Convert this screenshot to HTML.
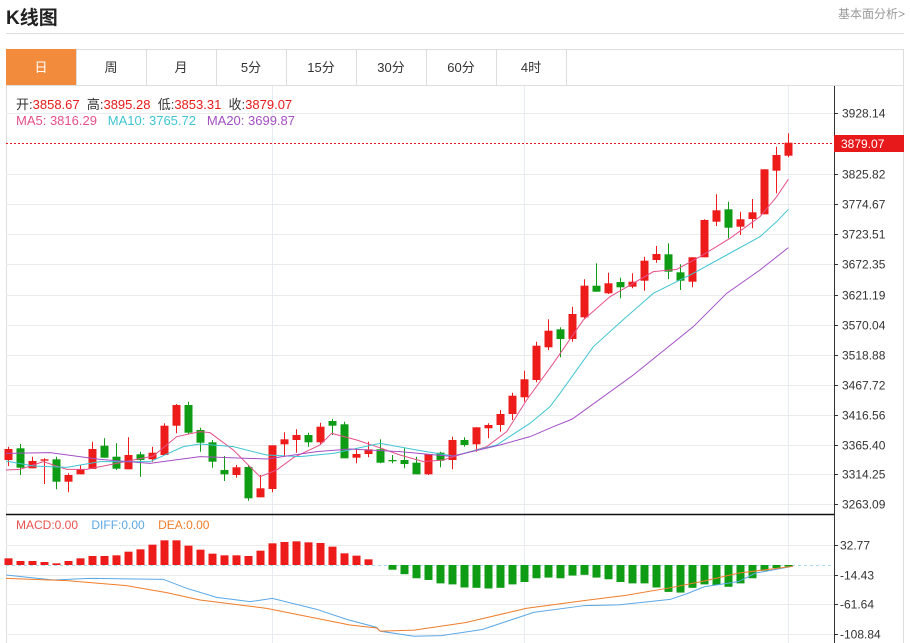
<!DOCTYPE html>
<html><head><meta charset="utf-8">
<style>
body{margin:0;width:910px;height:643px;background:#fff;font-family:"Liberation Sans","Noto Sans CJK SC",sans-serif;overflow:hidden;position:relative}
.t{position:absolute;white-space:nowrap}
</style></head><body>
<div class="t" style="left:6px;top:3px;font-size:19px;font-weight:bold;color:#222">K线图</div>
<div class="t" style="left:838px;top:5px;font-size:12px;color:#999">基本面分析&gt;</div>
<div style="position:absolute;left:6px;top:33px;width:898px;height:1px;background:#ddd"></div>
<svg id="s" width="910" height="643" style="position:absolute;left:0;top:0" xmlns="http://www.w3.org/2000/svg" font-family="Liberation Sans, Noto Sans CJK SC, sans-serif"></svg>
<script>
const S=document.getElementById('s');let h='';
function L(x1,y1,x2,y2,c,w,d){h+=`<line x1="${x1}" y1="${y1}" x2="${x2}" y2="${y2}" stroke="${c}" stroke-width="${w||1}" ${d?'stroke-dasharray="'+d+'"':''}/>`}
function R(x,y,w,hh,f,s){h+=`<rect x="${x}" y="${y}" width="${w}" height="${hh}" fill="${f}" ${s?'stroke="'+s+'"':''}/>`}
function T(x,y,t,c,sz,a){h+=`<text x="${x}" y="${y}" fill="${c}" font-size="${sz||12}" ${a?'text-anchor="'+a+'"':''}>${t}</text>`}
function P(pts,c){h+=`<polyline points="${pts.map(p=>p.join(',')).join(' ')}" fill="none" stroke="${c}" stroke-width="1"/>`}
R(6.5,49.5,897,600,'none','#ddd');
const tabs=['日','周','月','5分','15分','30分','60分','4时'];
R(6,49,70,36,'#f28c3c');
tabs.forEach((t,i)=>{let x=6+i*70;L(x+70.5,49,x+70.5,85,'#ddd');T(x+35,72,t,i?'#333':'#fff',13,'middle')});
L(6,85.5,904,85.5,'#ddd');
[113,174,204,234,264,295,325,355,385,415,445,474,504].forEach(y=>L(6,y+.5,834,y+.5,'#ebebeb'));
[272,524,788].forEach(x=>L(x+.5,86,x+.5,643,'#e6ecf2'));
[545,575,604,634].forEach(y=>L(6,y+.5,834,y+.5,'#ebebeb'));
const lab=[[113,'3928.14'],[174,'3825.82'],[204,'3774.67'],[234,'3723.51'],[264,'3672.35'],[295,'3621.19'],[325,'3570.04'],[355,'3518.88'],[385,'3467.72'],[415,'3416.56'],[445,'3365.40'],[474,'3314.25'],[504,'3263.09']];
lab.forEach(([y,t])=>{L(834,y+.5,838,y+.5,'#333');T(842,y+4.5,t,'#333',12)});
[[545,'32.77'],[575,'-14.43'],[604,'-61.64'],[634,'-108.84']].forEach(([y,t])=>{L(834,y+.5,838,y+.5,'#333');T(840,y+4.5,t,'#333',12)});
L(834.5,86,834.5,643,'#333');
L(6,514.5,834,514.5,'#111',1.5);
L(6,143.5,834,143.5,'#e8191b',1,'2,2');
R(834,135,70,17,'#e8191b');T(841,148,'3879.07','#fff',12);
const C=[
['r',449,460,446.7,466],['g',448.3,467.7,444,475],['r',461,468.3,456.7,468.3],['r',459.3,460.7,458.3,484],['g',459.3,481.7,456.7,489.3],['r',475,481.7,473.3,492.3],['r',469.3,474.3,465,474.3],['r',449,469,441.7,469],['g',445.7,457.7,438.3,457.7],['g',456.7,468.7,443.3,470],
['r',455,469.3,437.3,469.3],['g',454.3,460,451.7,476.7],['r',452.7,459.3,446.7,461.7],['r',425.7,455,423.3,455],['r',405,425.7,404,433.3],['g',405,432.7,401.7,434],['g',430,442.7,427.7,451.7],['g',442.3,461.7,440,467.7],['g',470,474.3,456,481],['r',467.3,475,465,477.7],
['g',467,498.3,465,500.7],['r',488.3,497.3,475,497.3],['r',445.3,489,445.3,492.3],['r',439.3,444.3,432.3,456],['r',435,440,429.3,452.7],['g',435,442.3,432.7,446.7],['r',426.7,442.3,422.7,444],['g',421,425.7,419,435],['g',424.3,458.3,421.7,458.3],['r',454,457.7,448.3,463.3],
['r',449.3,454,441.7,457.3],['g',449.3,462.7,439.3,463.3],['g',460,461.3,455,463.3],['g',460,464,448.3,468.3],['g',462.7,474.3,456.7,474.3],['r',454,474.3,454,475],['g',452.7,460.7,451.7,467.3],['r',440,460,436.7,469.3],['g',440,445,437.3,446.7],['r',427.3,444.3,427.3,451.7],
['r',425,428.3,423.3,438.3],['r',414,425,410,431.7],['r',395.7,414,392.7,420],['r',379.3,397.3,370.7,401.7],['r',345.7,380,341.7,382.3],['r',330.7,347.3,319.3,350],['g',329.3,339,327.3,357.3],['r',314,339,306.7,341.7],['r',285.7,317.3,279.3,318.3],['g',285.7,291.7,263.3,291.7],
['r',283.3,293.3,272.7,294],['g',282,287.3,277.7,298.3],['r',281.7,286.7,273.3,288.3],['r',260.7,280.7,256.7,290.7],['r',254,260,246,262.7],['g',254.3,271.7,243.3,279],['g',272.3,280.7,264.3,290],['r',257.3,281.7,257.3,287.3],['r',220,257.3,219.3,257.3],['r',210.3,221.7,194.3,226],
['g',209.3,227.7,201.7,238.3],['r',219.3,226.7,211.7,235],['r',212.3,219,199,228.3],['r',169.3,214.3,169.3,214.3],['r',155,170.7,146.7,193.3],['r',142.7,155.7,133.3,157.3]];
const RED='#ee1b1b',GRN='#0f9c15';
function cx(i){return 8+i*12.0}
C.forEach((c,i)=>{const col=c[0]=='r'?RED:GRN,x=cx(i);L(x+.5,c[3],x+.5,c[4],col);R(x-3.5,c[1],8,Math.max(1,c[2]-c[1]),col)});
function z2(a){return a.map(([u,v])=>[u/3,380+v/3])}
function z4(a){return a.map(([u,v])=>[420+u/3,380+v/3])}
function z3(a){return a.map(([u,v])=>[460+u/3,130+v/3])}
P([...z2([[18,270],[60,268],[130,245],[200,268],[260,268],[350,250],[460,228],[530,170],[600,155],[630,158],[700,210],[780,290],[830,270],[880,233],[960,195],[995,160],[1070,180],[1130,200],[1200,225],[1270,245],[1330,240]]),...z4([[100,230],[200,200],[260,155]]),...z3([[200,810],[280,700],[370,570],[450,500],[580,425],[650,418],[720,380],[810,325],[900,260],[950,200],[985,148]])],'#e5508a');
P([...z2([[18,243],[100,258],[200,262],[300,245],[450,245],[550,200],[600,192],[700,200],[800,225],[900,230],[1000,220],[1140,190],[1250,210],[1340,225]]),...z4([[100,228],[230,195],[330,130],[390,80]]),...z3([[300,790],[400,650],[500,560],[580,490],[700,430],[800,375],[900,320],[950,275],[985,238]])],'#3fc5d2');
P([...z2([[18,220],[150,218],[300,238],[450,250],[600,230],[800,237],[950,215],[1050,207],[1200,215],[1340,228]]),...z4([[100,228],[240,195],[330,170],[400,140],[450,120]]),...z3([[340,865],[520,735],[700,590],[800,490],[900,420],[985,353]])],'#a44fc4');
const Z=565;
L(6,Z+.5,834,Z+.5,'#a8d8ec',1,'3,3');
const red=[535,543,543,546,550,543,535,528,528,526,515,508,494,481,481,497,509,521,526,526,528,512,490,486,484,487,489,500,520,527,538];
red.forEach((v,i)=>{const y=380+v/3;R(cx(i)-3.5,y,8,Z-y,RED)});
const gr=[175,188,200,205,215,218,227,228,230,228,218,211,200,198,200,192,190,198,203,211,215,215,227,240,242,228,218,220,225,215,200,178,170,166];
gr.forEach((v,k)=>{const i=32+k,y=510+v/2.93;if(y-Z>0.5)R(cx(i)-3.5,Z,8,y-Z,GRN)});
function z5(a){return a.map(([u,v])=>[380+u/2.93,510+v/2.93])}
P([...z2([[18,585],[160,600],[270,595],[490,598],[560,625],[650,652],[750,665],[817,655],[950,688],[1040,718],[1130,742]]),...z5([[0,355],[100,370],[180,368],[300,350],[450,300],[600,280],[700,278],[850,262],[900,245],[950,225],[1050,210],[1100,185],[1210,165]])],'#5aa8e6');
P([...z2([[18,595],[200,602],[380,617],[500,638],[600,660],[800,685],[950,715],[1050,735],[1130,744]]),...z5([[0,355],[100,352],[250,330],[430,288],[600,265],[720,250],[850,228],[950,208],[1050,185],[1210,165]])],'#f07d2a');
S.innerHTML=h;
</script>
<div class="t" style="left:16px;top:94px;font-size:13px;color:#333">开:<span style="color:#e8191b">3858.67</span>&nbsp;&nbsp;高:<span style="color:#e8191b">3895.28</span>&nbsp;&nbsp;低:<span style="color:#e8191b">3853.31</span>&nbsp;&nbsp;收:<span style="color:#e8191b">3879.07</span></div>
<div class="t" style="left:16px;top:113px;font-size:13px"><span style="color:#e5508a">MA5: 3816.29</span>&nbsp;&nbsp;&nbsp;<span style="color:#3fc5d2">MA10: 3765.72</span>&nbsp;&nbsp;&nbsp;<span style="color:#a44fc4">MA20: 3699.87</span></div>
<div class="t" style="left:16px;top:518px;font-size:12px"><span style="color:#e9514d">MACD:0.00</span>&nbsp;&nbsp;&nbsp;&nbsp;<span style="color:#5aa8e6">DIFF:0.00</span>&nbsp;&nbsp;&nbsp;&nbsp;<span style="color:#f07d2a">DEA:0.00</span></div>
</body></html>
